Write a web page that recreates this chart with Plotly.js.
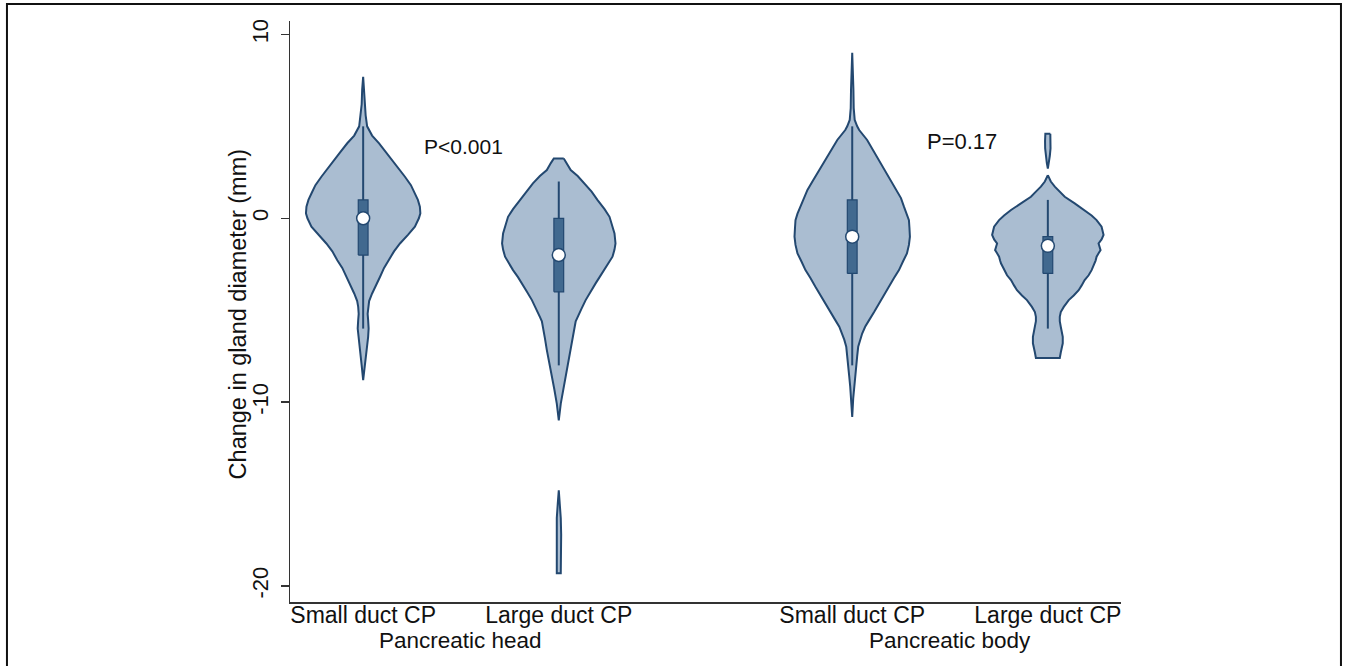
<!DOCTYPE html>
<html>
<head>
<meta charset="utf-8">
<script src="https://cdn.plot.ly/plotly-3.0.1.min.js"></script>
<style>
  html, body { margin: 0; padding: 0; background: #ffffff; }
  #chart { width: 1345px; height: 666px; }
</style>
</head>
<body>
<div id="chart"></div>
<script>
// ---------- data ----------
const categories = ['Small duct CP', 'Large duct CP', 'Small duct CP', 'Large duct CP'];
const regions = ['Pancreatic head', 'Pancreatic body'];
const pValues = ['P<0.001', 'P=0.17'];
const yTickVals = [-20, -10, 0, 10];
const yTickText = ['-20', '-10', '0', '10'];

// Density profiles (y value, relative density); null separates disjoint pieces
const headSmallY = [7.7, 7.0, 6.2, 5.6, 5.0, 4.5, 4.08, 3.6, 3.17, 2.7, 2.26, 1.8, 1.35, 1.0, 0.63, 0.27, 0.0, -0.46, -0.9, -1.37, -1.8, -2.28, -2.7, -3.18, -3.6, -4.09, -4.5, -4.82, -5.2, -5.54, -6.0, -6.45, -6.9, -7.36, -8.0, -8.8];
const headSmallD = [0, 1.0, 1.5, 2.5, 4, 9, 16, 23, 29, 36, 42, 48, 52, 55, 57, 57.5, 56, 52, 45, 37, 31, 26, 21, 17, 13, 9, 6, 5, 4.5, 5, 5.5, 5, 4, 3, 1.5, 0];

const headLargeY = [3.25, 3.0, 2.62, 2.3, 1.9, 1.45, 0.99, 0.5, 0.08, -0.4, -0.82, -1.37, -1.7, -2.09, -2.45, -2.82, -3.2, -3.54, -4.0, -4.45, -4.9, -5.36, -5.6, -5.9, -6.5, -7.17, -7.9, -8.63, -9.3, -10.08, -10.99,
                    null, -14.8, -15.5, -16.3, -17.2, -18.2, -19.3];
const headLargeD = [5, 8, 12, 19, 26, 33, 39, 46, 51, 54, 56, 57, 56, 54, 50, 46, 41, 37, 32, 27, 23, 19, 17, 16, 14, 12, 9.5, 7, 4.5, 2, 0,
                    null, 0, 1, 2, 2.4, 2.2, 2];

const bodySmallY = [9.0, 8.0, 7.0, 6.0, 5.35, 5.0, 4.8, 4.26, 3.8, 3.35, 2.9, 2.44, 2.0, 1.54, 1.1, 0.63, 0.25, -0.1, -0.5, -1.0, -1.45, -1.91, -2.35, -2.82, -3.25, -3.73, -4.2, -4.63, -5.1, -5.54, -5.9, -6.27, -6.6, -6.99, -7.5, -8.08, -8.6, -9.17, -9.8, -10.8];
const bodySmallD = [0, 0.8, 1.2, 1.5, 2.5, 5, 7, 15, 20, 25, 30, 35, 40, 45, 49, 52, 55, 57, 57.5, 58, 57, 55, 51, 47, 42, 37, 32, 27, 22, 17, 13, 10, 8, 6, 5, 4, 3, 2, 1, 0];

const bodyLargeY = [4.6, 4.2, 3.8, 3.4, 3.0, 2.7,
                    null, 2.35, 2.0, 1.72, 1.45, 1.17, 0.81, 0.45, 0.15, -0.1, -0.46, -0.91, -1.15, -1.37, -1.55, -1.73, -1.9, -2.09, -2.3, -2.46, -2.82, -3.1, -3.36, -3.65, -3.91, -4.2, -4.45, -4.82, -5.1, -5.36, -5.6, -5.9, -6.2, -6.45, -6.8, -7.0, -7.3, -7.6];
const bodyLargeD = [2.5, 2.8, 2.7, 2.0, 1.0, 0,
                    null, 0, 3, 7, 12, 17, 27, 37, 44, 49, 54, 56, 54, 51, 52, 53, 51, 49, 48, 47, 44, 41, 37, 34, 31, 26, 21, 16, 13, 12, 12, 13, 14, 15, 15, 14, 13, 12];

// Box plot statistics per group
const lowerAdj = [-6, -8, -8, -6];
const q1 = [-2, -4, -3, -3];
const median = [0, -2, -1, -1.5];
const q3 = [1, 0, 1, -1];
const upperAdj = [5, 2, 5, 1];

// ---------- styling ----------
const xPos = [0, 1, 2.5, 3.5];
const profilesY = [headSmallY, headLargeY, bodySmallY, bodyLargeY];
const profilesD = [headSmallD, headLargeD, bodySmallD, bodyLargeD];
const maxHalfWidth = 0.295;   // x-units for the widest point
const densMax = 58;
const boxHalf = 0.025;
const violinFill = '#aabdd1';
const violinLine = '#234870';
const boxFill = '#41698f';

function outline(c, ys, ds) {
  const X = [], Y = [];
  let seg = [];
  const flush = () => {
    if (!seg.length) return;
    const k = maxHalfWidth / densMax;
    seg.forEach(p => { X.push(c + k * p[1]); Y.push(p[0]); });
    for (let i = seg.length - 1; i >= 0; i--) { X.push(c - k * seg[i][1]); Y.push(seg[i][0]); }
    X.push(c + k * seg[0][1]); Y.push(seg[0][0]);
    X.push(null); Y.push(null);
    seg = [];
  };
  ys.forEach((y, i) => { if (y === null) flush(); else seg.push([y, ds[i]]); });
  flush();
  return { X, Y };
}

const traces = [];
profilesY.forEach((ys, i) => {
  const o = outline(xPos[i], ys, profilesD[i]);
  traces.push({
    type: 'scatter', mode: 'lines', x: o.X, y: o.Y,
    fill: 'toself', fillcolor: violinFill,
    line: { color: violinLine, width: 2 },
    hoverinfo: 'skip', connectgaps: false
  });
});
// whiskers (adjacent values)
xPos.forEach((c, i) => {
  traces.push({
    type: 'scatter', mode: 'lines', x: [c, c], y: [lowerAdj[i], upperAdj[i]],
    line: { color: violinLine, width: 2 }, hoverinfo: 'skip'
  });
});
// interquartile boxes
xPos.forEach((c, i) => {
  traces.push({
    type: 'scatter', mode: 'lines',
    x: [c - boxHalf, c + boxHalf, c + boxHalf, c - boxHalf, c - boxHalf],
    y: [q1[i], q1[i], q3[i], q3[i], q1[i]],
    fill: 'toself', fillcolor: boxFill,
    line: { color: violinLine, width: 1.2 }, hoverinfo: 'skip'
  });
});
// medians
traces.push({
  type: 'scatter', mode: 'markers', x: xPos, y: median,
  marker: { symbol: 'circle', size: 13, color: '#ffffff', line: { color: violinLine, width: 1.5 } },
  hoverinfo: 'skip'
});

const font = "'Liberation Sans', Arial, Helvetica, sans-serif";
const layout = {
  width: 1345, height: 666,
  margin: { l: 290, r: 224, t: 21, b: 64 },
  paper_bgcolor: '#ffffff', plot_bgcolor: '#ffffff',
  showlegend: false,
  font: { family: font, color: '#111111', size: 22 },
  xaxis: {
    range: [-0.374, 3.874], tickmode: 'array', tickvals: xPos, ticktext: categories,
    showline: true, linecolor: '#333333', linewidth: 1.5, ticks: '',
    showgrid: false, zeroline: false, tickfont: { size: 23 }, ticklabelstandoff: -8, fixedrange: true
  },
  yaxis: {
    range: [-20.87, 10.73], tickmode: 'array', tickvals: yTickVals, ticktext: yTickText,
    ticks: 'outside', ticklen: 8, tickwidth: 1.5, tickcolor: '#333333',
    tickangle: -90, showline: true, linecolor: '#333333', linewidth: 1.5,
    showgrid: false, zeroline: false, tickfont: { size: 22 }, ticklabelstandoff: 4, fixedrange: true
  },
  annotations: [
    { text: 'Change in gland diameter (mm)', xref: 'paper', yref: 'paper', x: -0.0626, y: 0.495,
      textangle: -90, showarrow: false, xanchor: 'center', yanchor: 'middle', font: { size: 23.5 } },
    { text: regions[0], xref: 'x', yref: 'paper', x: (xPos[0] + xPos[1]) / 2, y: -0.066,
      showarrow: false, xanchor: 'center', yanchor: 'middle', font: { size: 22.5 } },
    { text: regions[1], xref: 'x', yref: 'paper', x: (xPos[2] + xPos[3]) / 2, y: -0.066,
      showarrow: false, xanchor: 'center', yanchor: 'middle', font: { size: 22.5 } },
    { text: pValues[0], xref: 'x', yref: 'y', x: 0.512, y: 3.93,
      showarrow: false, xanchor: 'center', yanchor: 'middle', font: { size: 21 } },
    { text: pValues[1], xref: 'x', yref: 'y', x: 3.06, y: 4.15,
      showarrow: false, xanchor: 'center', yanchor: 'middle', font: { size: 22 } }
  ],
  shapes: [
    { type: 'rect', xref: 'paper', yref: 'paper', x0: -0.3406, x1: 1.2647, y0: -0.12, y1: 1.0293,
      line: { color: '#111111', width: 2 }, fillcolor: 'rgba(0,0,0,0)', layer: 'below' }
  ]
};

Plotly.newPlot('chart', traces, layout, { displayModeBar: false, staticPlot: true });
</script>
</body>
</html>
